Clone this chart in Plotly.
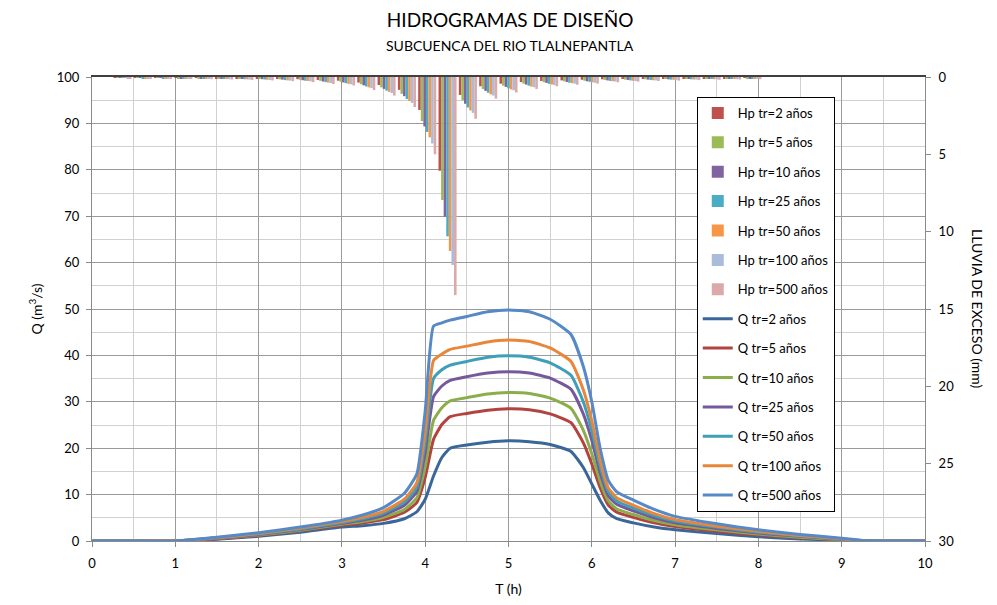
import plotly.graph_objects as go

# Hidrogramas (Q en m3/s)
t_q = [0, 0.5, 1.0, 1.5, 2.0, 2.5, 3.0, 3.25, 3.5, 3.75, 3.9, 4.0, 4.1, 4.2, 4.3, 4.5, 4.75, 5.0,
       5.25, 5.5, 5.75, 5.9, 6.0, 6.1, 6.2, 6.3, 6.5, 6.75, 7.0, 7.5, 8.0, 8.5, 9.0, 9.25, 9.5, 10.0]
q_tr2 = [0, 0, 0, 0.4, 1.0, 1.9, 3.0, 3.3, 3.8, 4.8, 6.3, 9.0, 14.0, 18.0, 20.0, 20.7, 21.3, 21.6,
         21.4, 20.8, 19.3, 15.8, 12.3, 8.8, 6.0, 4.8, 3.9, 3.0, 2.4, 1.6, 0.9, 0.45, 0.15, 0, 0, 0]
q_tr5 = [0, 0, 0, 0.5, 1.2, 2.2, 3.4, 3.9, 4.6, 6.2, 8.3, 13.7, 21.9, 25.1, 26.8, 27.5, 28.2, 28.5,
         28.3, 27.4, 25.5, 21.1, 16.6, 11.5, 7.7, 6.2, 5.1, 3.9, 3.1, 2.1, 1.3, 0.7, 0.3, 0, 0, 0]
q_tr10 = [0, 0, 0, 0.6, 1.3, 2.3, 3.6, 4.2, 5.1, 6.8, 9.3, 16.0, 26.0, 28.7, 30.2, 30.9, 31.7, 32.0,
          31.8, 30.8, 28.6, 23.8, 18.8, 12.9, 8.6, 6.9, 5.7, 4.4, 3.5, 2.4, 1.5, 0.8, 0.3, 0, 0, 0]
q_tr25 = [0, 0, 0, 0.6, 1.4, 2.5, 3.8, 4.5, 5.6, 7.7, 10.7, 19.1, 31.1, 33.4, 34.6, 35.4, 36.2, 36.5,
          36.2, 35.1, 32.7, 27.3, 21.7, 14.7, 9.7, 7.9, 6.5, 5.0, 3.9, 2.7, 1.7, 1.0, 0.4, 0.05, 0, 0]
q_tr50 = [0, 0, 0, 0.7, 1.5, 2.6, 4.0, 4.8, 6.0, 8.4, 11.6, 21.4, 35.0, 36.9, 37.9, 38.7, 39.6, 39.9,
          39.6, 38.4, 35.7, 29.9, 23.8, 16.1, 10.6, 8.6, 7.1, 5.5, 4.3, 3.0, 1.9, 1.1, 0.45, 0.07, 0, 0]
q_tr100 = [0, 0, 0, 0.7, 1.6, 2.8, 4.2, 5.1, 6.4, 9.0, 12.6, 23.6, 38.9, 40.3, 41.3, 42.0, 42.9, 43.3,
           43.0, 41.6, 38.7, 32.5, 25.9, 17.4, 11.4, 9.3, 7.7, 5.9, 4.6, 3.2, 2.1, 1.2, 0.5, 0.08, 0, 0]
q_tr500 = [0, 0, 0, 0.8, 1.8, 3.0, 4.5, 5.6, 7.2, 10.3, 14.5, 28.0, 46.3, 47.0, 47.6, 48.4, 49.4, 49.8,
           49.4, 47.8, 44.5, 37.5, 30.0, 20.0, 13.0, 10.6, 8.8, 6.8, 5.3, 3.7, 2.4, 1.4, 0.6, 0.1, 0, 0]

# Hietogramas de lluvia en exceso (mm), intervalos de 15 min
t_hp = [0, 0.25, 0.5, 0.75, 1, 1.25, 1.5, 1.75, 2, 2.25, 2.5, 2.75, 3, 3.25, 3.5, 3.75, 4, 4.25,
        4.5, 4.75, 5, 5.25, 5.5, 5.75, 6, 6.25, 6.5, 6.75, 7, 7.25, 7.5, 7.75, 8, 8.25, 8.5,
        8.75, 9, 9.25, 9.5, 9.75, 10]
hp_tr2 = [0, 0.03, 0.04, 0.04, 0.05, 0.06, 0.07, 0.08, 0.09, 0.12, 0.14, 0.19, 0.24, 0.36, 0.52,
          0.83, 2.13, 6.06, 1.16, 0.6, 0.43, 0.33, 0.26, 0.22, 0.18, 0.15, 0.13, 0.11, 0.10, 0.09,
          0.08, 0.07, 0.06, 0, 0, 0, 0, 0, 0, 0, 0]
hp_tr5 = [0, 0.04, 0.05, 0.06, 0.07, 0.08, 0.09, 0.11, 0.12, 0.15, 0.18, 0.25, 0.31, 0.47, 0.67,
          1.09, 2.85, 7.95, 1.51, 0.78, 0.56, 0.43, 0.34, 0.28, 0.24, 0.19, 0.17, 0.15, 0.13, 0.11,
          0.10, 0.09, 0.08, 0, 0, 0, 0, 0, 0, 0, 0]
hp_tr10 = [0, 0.05, 0.06, 0.06, 0.08, 0.09, 0.10, 0.12, 0.14, 0.17, 0.21, 0.29, 0.35, 0.54, 0.77,
           1.24, 3.2, 9.03, 1.73, 0.9, 0.64, 0.49, 0.38, 0.32, 0.28, 0.22, 0.19, 0.17, 0.15, 0.13,
           0.12, 0.10, 0.09, 0, 0, 0, 0, 0, 0, 0, 0]
hp_tr25 = [0, 0.06, 0.07, 0.07, 0.09, 0.10, 0.12, 0.14, 0.16, 0.20, 0.24, 0.33, 0.40, 0.61, 0.88,
           1.42, 3.55, 10.3, 1.97, 1.02, 0.73, 0.56, 0.44, 0.37, 0.31, 0.25, 0.22, 0.19, 0.17, 0.15,
           0.13, 0.12, 0.10, 0, 0, 0, 0, 0, 0, 0, 0]
hp_tr50 = [0, 0.06, 0.07, 0.08, 0.10, 0.11, 0.13, 0.15, 0.18, 0.22, 0.26, 0.36, 0.44, 0.67, 0.96,
           1.55, 3.9, 11.25, 2.16, 1.12, 0.8, 0.62, 0.48, 0.4, 0.34, 0.27, 0.24, 0.21, 0.18, 0.16,
           0.14, 0.13, 0.11, 0, 0, 0, 0, 0, 0, 0, 0]
hp_tr100 = [0, 0.07, 0.08, 0.09, 0.10, 0.12, 0.14, 0.16, 0.19, 0.23, 0.28, 0.39, 0.47, 0.72, 1.03,
            1.67, 4.3, 12.15, 2.32, 1.2, 0.86, 0.66, 0.52, 0.43, 0.37, 0.29, 0.26, 0.22, 0.20, 0.17,
            0.15, 0.14, 0.12, 0, 0, 0, 0, 0, 0, 0, 0]
hp_tr500 = [0, 0.08, 0.09, 0.10, 0.12, 0.14, 0.16, 0.19, 0.22, 0.27, 0.33, 0.45, 0.55, 0.84, 1.2,
            1.94, 5.0, 14.1, 2.7, 1.4, 1.0, 0.77, 0.6, 0.5, 0.43, 0.34, 0.3, 0.26, 0.23, 0.2,
            0.18, 0.16, 0.14, 0, 0, 0, 0, 0, 0, 0, 0]

periodos = ['2', '5', '10', '25', '50', '100', '500']
hp_series = [hp_tr2, hp_tr5, hp_tr10, hp_tr25, hp_tr50, hp_tr100, hp_tr500]
q_series = [q_tr2, q_tr5, q_tr10, q_tr25, q_tr50, q_tr100, q_tr500]
hp_colores = ['#C0504D', '#9BBB59', '#8064A2', '#4BACC6', '#F79646', '#A9BCDB', '#DBA9A9']
q_colores = ['#3B6699', '#B2433F', '#8BAE4A', '#76599A', '#3E9FB8', '#E8873A', '#5689C6']

FONT = 'Lato, Liberation Sans, sans-serif'
fig = go.Figure()

hp_cat = [str(v) for v in t_hp]
for tr, vals, col in zip(periodos, hp_series, hp_colores):
    fig.add_trace(go.Bar(x=hp_cat, y=vals, name=f'Hp tr={tr} años', marker_color=col,
                         marker_line_width=0, xaxis='x2', yaxis='y2', legendgroup='hp' + tr))

for tr, vals, col in zip(periodos, q_series, q_colores):
    fig.add_trace(go.Scatter(x=t_q, y=vals, name=f'Q tr={tr} años', mode='lines',
                             line=dict(color=col, width=3, shape='spline', smoothing=0.5),
                             legendgroup='q' + tr))

# la página añade 8 px de margen, se compensa aquí
fig.update_layout(
    width=989, height=597,
    margin=dict(l=84, r=72, t=69, b=64),
    paper_bgcolor='white', plot_bgcolor='white',
    font=dict(family=FONT, size=13, color='#000000'),
    title=dict(text='HIDROGRAMAS DE DISEÑO', xref='paper', x=0.502, xanchor='center',
               y=1 - 12 / 597, yanchor='middle', font=dict(size=19, color='#000000')),
    barmode='group', bargap=0.11, bargroupgap=0,
    xaxis=dict(range=[0, 10], dtick=1, tick0=0, showgrid=True, gridcolor='#9A9A9A', gridwidth=1,
               minor=dict(dtick=0.5, showgrid=True, gridcolor='#D0D0D0'),
               showline=True, linecolor='#8A8A8A', ticks='outside', ticklen=5, tickcolor='#8A8A8A',
               ticklabelstandoff=5, zeroline=False,
               title=dict(text='T (h)', standoff=14, font=dict(size=14))),
    yaxis=dict(range=[0, 100], dtick=10, showgrid=True, gridcolor='#9A9A9A',
               minor=dict(dtick=5, showgrid=True, gridcolor='#D0D0D0'),
               showline=True, linecolor='#8A8A8A', ticks='outside', ticklen=5, tickcolor='#8A8A8A',
               ticklabelstandoff=4, zeroline=False,
               title=dict(text='Q (m<sup>3</sup>/s)', standoff=10, font=dict(size=14))),
    xaxis2=dict(type='category', overlaying='x', side='top', range=[-0.5, 40.5],
                showticklabels=False, showgrid=False, ticks='', showline=True,
                linecolor='#404040', linewidth=1.5),
    yaxis2=dict(overlaying='y', side='right', range=[30, 0], dtick=5, showgrid=False,
                showline=True, linecolor='#8A8A8A', ticks='outside', ticklen=5, tickcolor='#8A8A8A',
                ticklabelstandoff=5, zeroline=False),
    legend=dict(x=0.726, y=0.957, xanchor='left', yanchor='top', bgcolor='white',
                bordercolor='#000000', borderwidth=1, font=dict(size=13),
                tracegroupgap=9.5, itemwidth=30, traceorder='grouped'),
    annotations=[
        dict(text='SUBCUENCA DEL RIO TLALNEPANTLA', xref='paper', yref='paper', x=0.502,
             y=(541 - 46) / 464, xanchor='center', yanchor='middle', showarrow=False,
             font=dict(size=14)),
        dict(text='LLUVIA DE EXCESO (mm)', xref='paper', yref='paper', x=(978 - 92) / 833,
             y=0.5, xanchor='center', yanchor='middle', textangle=90, showarrow=False,
             font=dict(size=14)),
    ],
)

fig.write_html('out.html')
